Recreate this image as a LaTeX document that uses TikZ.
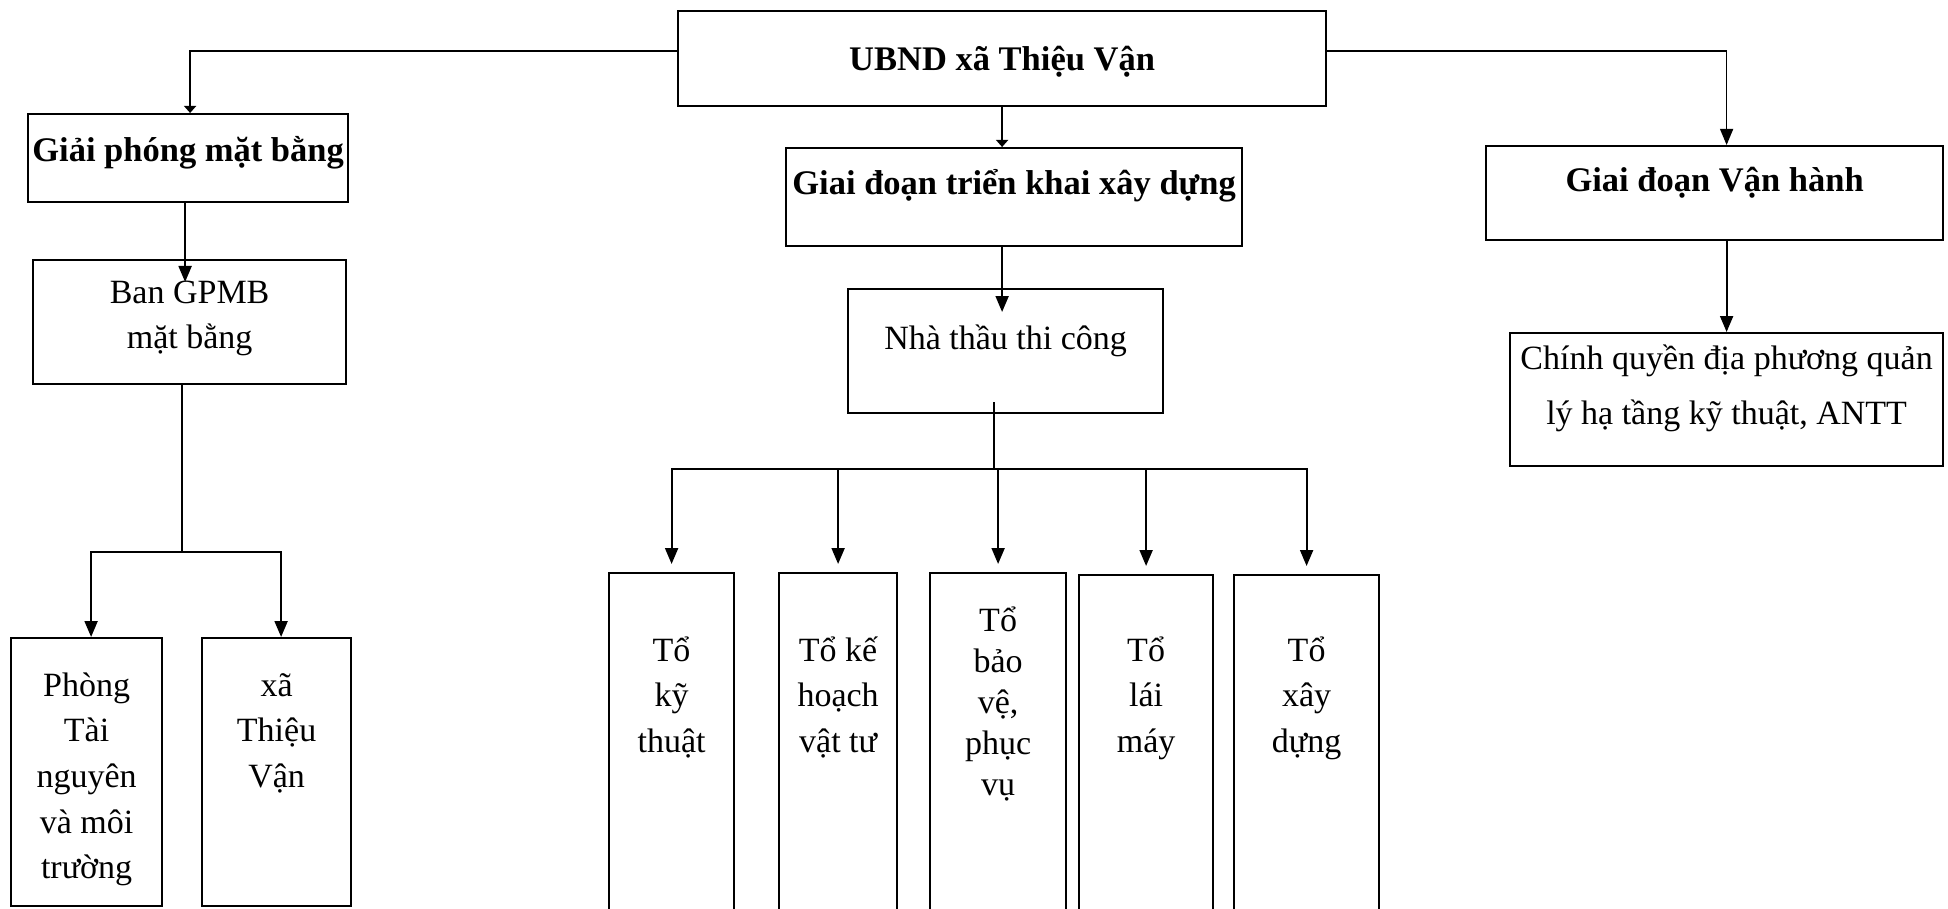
\documentclass[tikz,border=0pt]{standalone}
\usepackage{fontspec}
\setmainfont{Liberation Serif}
\usetikzlibrary{arrows.meta,positioning}

\tikzset{
  box/.style={draw, line width=2.2pt, inner sep=0pt, anchor=north west,
    font=\fontsize{34}{45.7}\selectfont},
  bold/.style={font=\fontsize{34.5}{40}\selectfont\bfseries},
  multi/.style={align=flush center, text width=#1},
  conn/.style={line width=2pt},
  thin/.style={line width=1.3pt},
  arr/.style={-{Triangle[length=16pt,width=13pt]}},
  stub/.style={-{Triangle[length=7pt,width=12pt]}}
}

\begin{document}
\begin{tikzpicture}[x=1pt,y=-1pt]
  \useasboundingbox (0,0) rectangle (1948,909);
  \clip (0,0) rectangle (1948,909);

  \coordinate (bsplit) at (182,552);
  \coordinate (tsplit) at (994,469);

  \node[box,bold,minimum width=648pt,text height=59pt,text depth=36pt] (ubnd) at (677,10) {UBND xã Thiệu Vận};
  \node[box,bold,minimum width=320pt,text height=47pt,text depth=41pt] (gpmb) at (27,113) {Giải phóng mặt bằng};
  \node[box,bold,minimum width=456pt,text height=46pt,text depth=52pt] (gnd) at (785,147) {Giai đoạn triển khai xây dựng};
  \node[box,bold,minimum width=457pt,text height=45pt,text depth=49pt] (gvh) at (1485,145) {Giai đoạn Vận hành};

  \node[box,multi=313pt,text height=43pt,text depth=81pt] (ban) at (32,259) {Ban GPMB\\mặt bằng};
  \node[box,minimum width=315pt,text height=60pt,text depth=64pt] (nt) at (847,288) {Nhà thầu thi công};
  \node[box,multi=433pt,text height=36pt,text depth=97pt,font=\fontsize{34}{55}\selectfont] (cq) at (1509,332) {Chính quyền địa phương quản\\lý hạ tầng kỹ thuật, ANTT};

  \node[box,multi=151pt,text height=58pt,text depth=210pt] (ptn) at (10,637) {Phòng\\Tài\\nguyên\\và môi\\trường};
  \node[box,multi=149pt,text height=58pt,text depth=210pt] (xtv) at (201,637) {xã\\Thiệu\\Vận};

  \node[box,multi=125pt,text height=88pt,text depth=312pt] (tkt) at (608,572) {Tổ\\kỹ\\thuật};
  \node[box,multi=118pt,text height=88pt,text depth=312pt] (tkh) at (778,572) {Tổ kế\\hoạch\\vật tư};
  \node[box,multi=136pt,text height=58pt,text depth=342pt,font=\fontsize{34}{41}\selectfont] (tbv) at (929,572) {Tổ\\bảo\\vệ,\\phục\\vụ};
  \node[box,multi=134pt,text height=86pt,text depth=312pt] (tlm) at (1078,574) {Tổ\\lái\\máy};
  \node[box,multi=145pt,text height=86pt,text depth=312pt] (txd) at (1233,574) {Tổ\\xây\\dựng};

  \draw[thin,stub] ([yshift=7.5pt]ubnd.west) -| ([xshift=2pt]gpmb.north);
  \draw[thin,arr] ([yshift=7.5pt]ubnd.east) -| ([xshift=12pt]gvh.north);
  \draw[thin,stub] (ubnd.south) -- (ubnd.south |- gnd.north);
  \draw[conn,arr] ([xshift=-3pt]gpmb.south) -- ([xshift=-4.5pt,yshift=-23pt]ban.north);
  \draw[conn,arr] (ubnd.south |- gnd.south) -- ([yshift=-24pt]ubnd.south |- nt.north);
  \draw[conn,arr] ([xshift=12pt]gvh.south) -- (cq.north);

  \draw[conn] (ban.south -| bsplit) -- (bsplit);
  \draw[conn,arr] (bsplit) -| ([xshift=4.5pt]ptn.north);
  \draw[conn,arr] (bsplit) -| ([xshift=4.5pt]xtv.north);

  \draw[conn] ([yshift=12pt]nt.south -| tsplit) -- (tsplit);
  \foreach \t in {tkt,tkh,tbv,tlm,txd}
    \draw[conn,arr,shorten >=8pt] (tsplit) -| (\t.north);
\end{tikzpicture}
\end{document}
